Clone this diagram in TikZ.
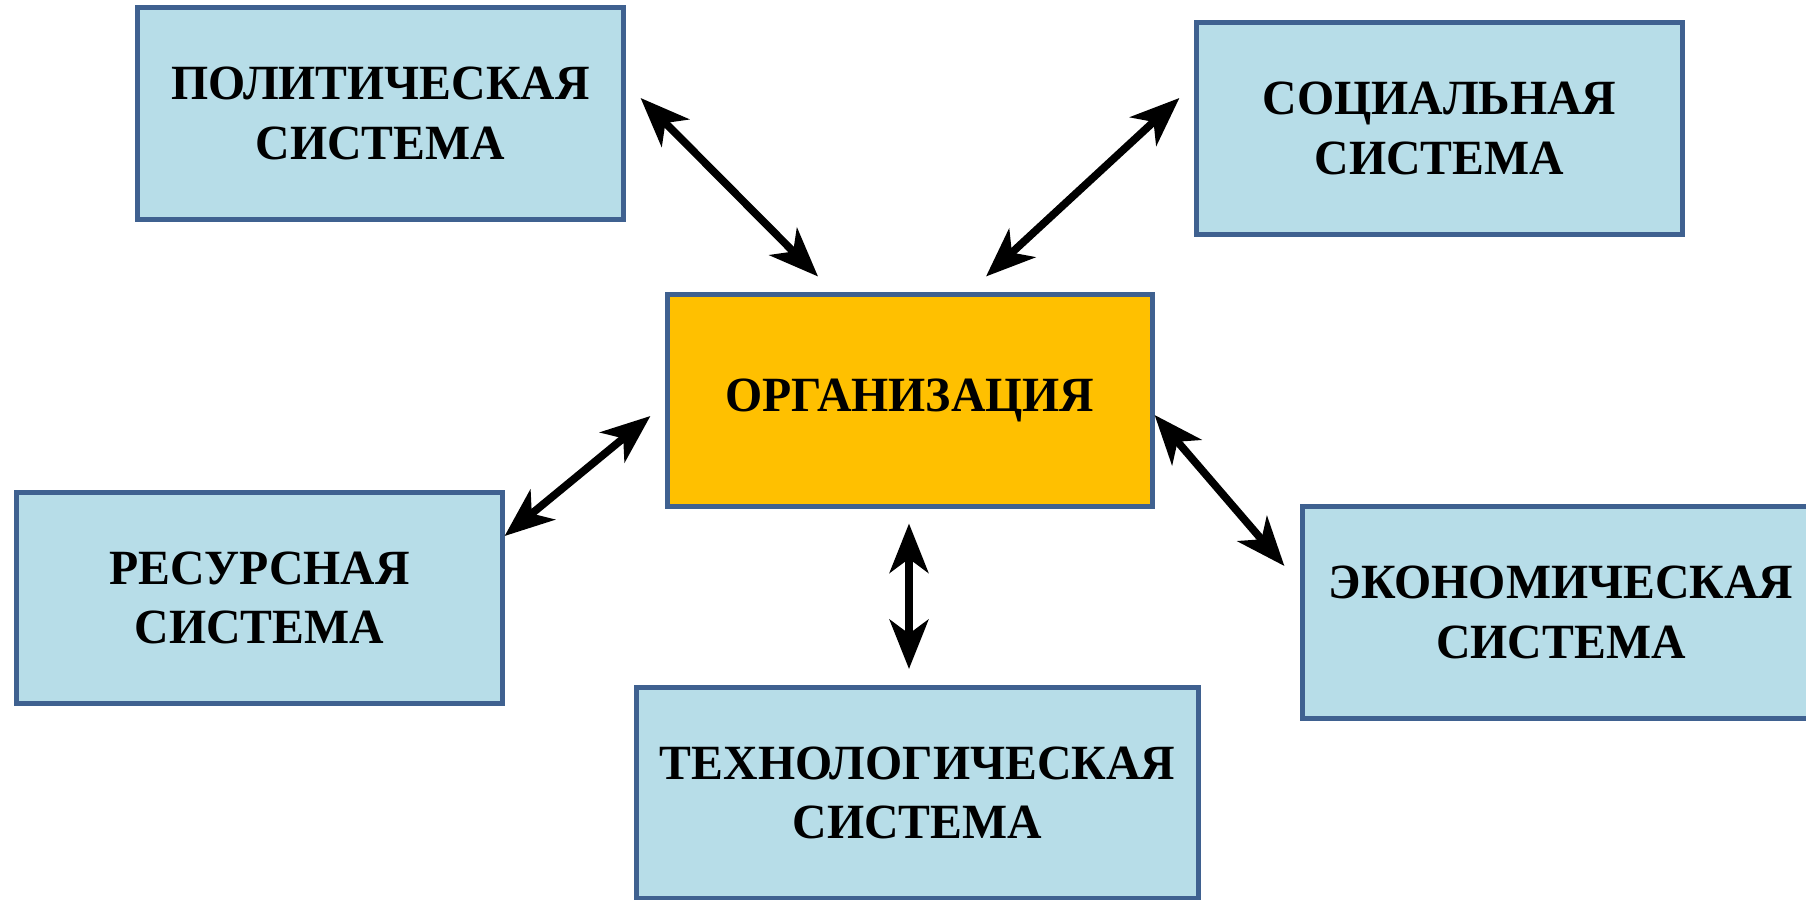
\documentclass[tikz,border=0pt]{standalone}
\usepackage{fontspec}
\setmainfont[FakeStretch=0.97]{Liberation Serif}
\usetikzlibrary{arrows.meta, positioning}
\definecolor{boxblue}{HTML}{B7DDE8}
\definecolor{edgeblue}{HTML}{3F6190}
\definecolor{orgyellow}{HTML}{FFC000}

\begin{document}
\begin{tikzpicture}[
    x=0.01cm, y=0.01cm,
    every node/.style={draw=edgeblue, line width=1.4pt, rectangle, minimum height=2.11cm, align=center,
        font=\fontsize{14}{17}\selectfont\bfseries},
    system/.style={fill=boxblue, minimum width=4.85cm},
    center/.style={fill=orgyellow, minimum width=4.84cm},
    arrow/.style={{Stealth[length=14pt, width=11pt, inset=4pt]}-{Stealth[length=14pt, width=11pt, inset=4pt]}, line width=2.2pt, draw=black}
]
\useasboundingbox (0,0) rectangle (1806,899);

\node[center] (org) at (910,498.5) {ОРГАНИЗАЦИЯ};
\node[system] (pol) at (380.5,785.5) {ПОЛИТИЧЕСКАЯ\\СИСТЕМА};
\node[system] (soc) at (1439.5,770.5) {СОЦИАЛЬНАЯ\\СИСТЕМА};
\node[system] (res) at (259.5,301) {РЕСУРСНАЯ\\СИСТЕМА};
\node[system, minimum width=5.61cm] (tech) at (917.5,106) {ТЕХНОЛОГИЧЕСКАЯ\\СИСТЕМА};
\node[system, minimum width=5.16cm] (eco) at (1561,286.5) {ЭКОНОМИЧЕСКАЯ\\СИСТЕМА};

\draw[arrow] ([shift={(15,15.5)}]pol.east) -- ([shift={(-92,16)}]org.north);
\draw[arrow] ([shift={(-15,30.5)}]soc.west) -- ([shift={(76,16)}]org.north);
\draw[arrow] ([shift={(-15,-15.5)}]org.west) -- ([shift={(0,62)}]res.east);
\draw[arrow] ([shift={(0,-14.5)}]org.east) -- ([shift={(-16,46.5)}]eco.west);
\draw[arrow] ([shift={(-1,-15)}]org.south) -- ([shift={(-8.5,16)}]tech.north);

\end{tikzpicture}
\end{document}
